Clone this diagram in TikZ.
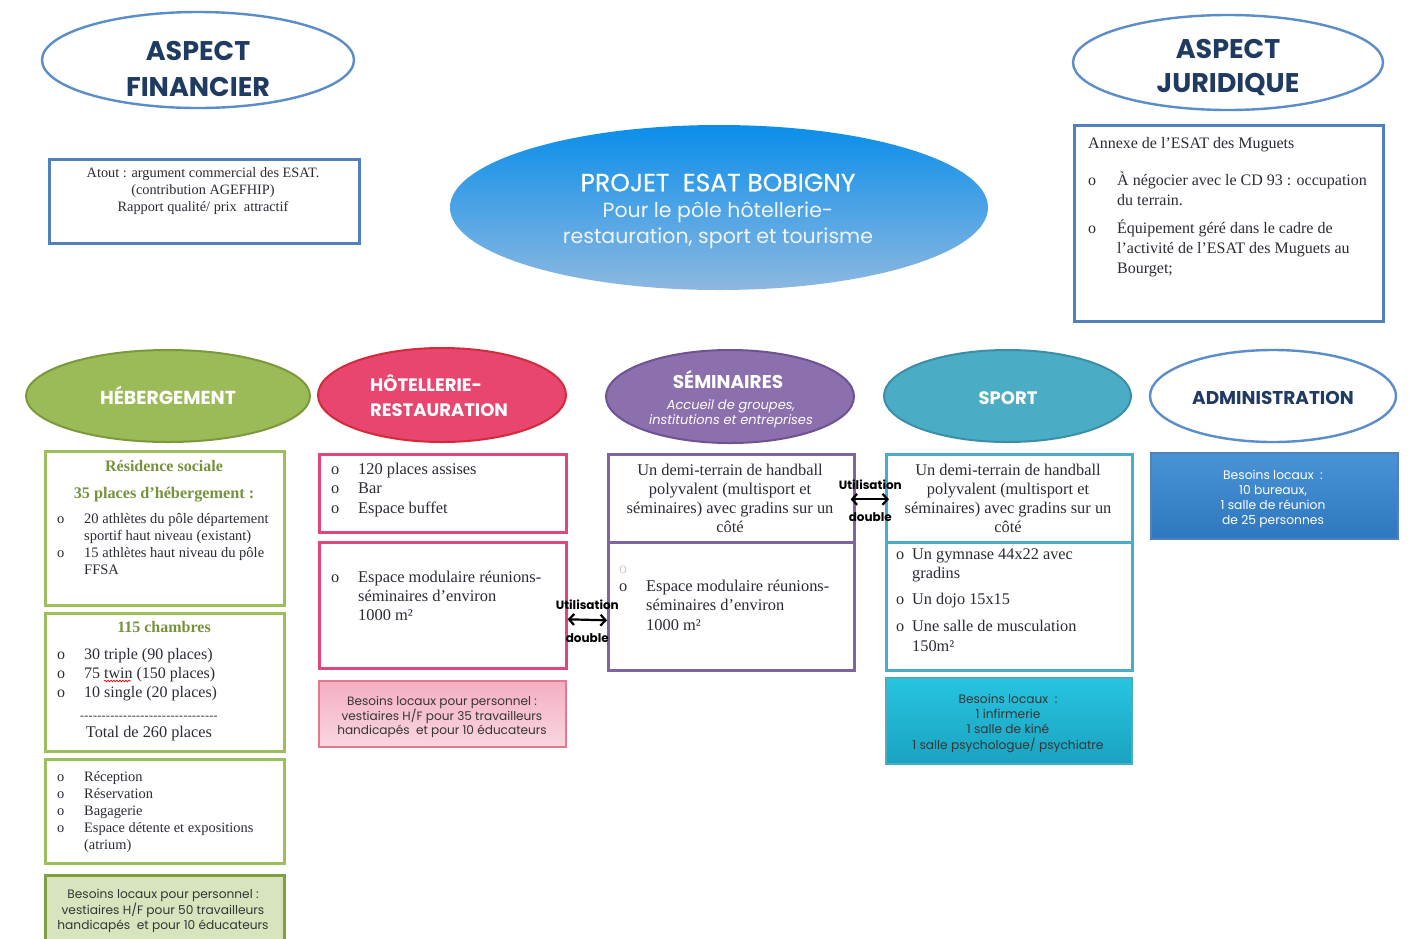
\documentclass[tikz,border=0pt]{standalone}
\usepackage{fontspec}
\setmainfont{Liberation Serif}
\newfontfamily\gothic{Poppins}
\usetikzlibrary{shapes.geometric,arrows.meta,decorations.pathmorphing}
\definecolor{navy}{HTML}{1F3B62}
\definecolor{steel}{HTML}{5B8DC8}
\definecolor{boxblue}{HTML}{4F81BD}
\definecolor{ink}{HTML}{2B2B36}
\definecolor{gfill}{HTML}{9BBB59}
\definecolor{gline}{HTML}{7A9A3A}
\definecolor{gbox}{HTML}{9DBE5C}
\definecolor{olive}{HTML}{76923C}
\definecolor{gneed}{HTML}{D7E4BD}
\definecolor{gneedl}{HTML}{7F9F45}
\definecolor{pfill}{HTML}{E8456F}
\definecolor{pline}{HTML}{D42A3C}
\definecolor{pbox}{HTML}{E2457A}
\definecolor{pneedt}{HTML}{F4AFC2}
\definecolor{pneedb}{HTML}{F9D6DF}
\definecolor{pneedl}{HTML}{E47890}
\definecolor{vfill}{HTML}{8C6FAD}
\definecolor{vline}{HTML}{6E5294}
\definecolor{vbox}{HTML}{8064A2}
\definecolor{tfill}{HTML}{4BACC6}
\definecolor{tline}{HTML}{3A8FA6}
\definecolor{tneedt}{HTML}{27C4E0}
\definecolor{tneedb}{HTML}{1AA3C0}
\definecolor{aneedt}{HTML}{4A93D6}
\definecolor{aneedb}{HTML}{2F77BE}
\definecolor{ctop}{HTML}{0A8EEA}
\definecolor{cmid}{HTML}{1A8DE4}
\definecolor{cbot}{HTML}{8DB8E0}
\definecolor{needtxt}{HTML}{353535}
\newcommand\fs[2]{\fontsize{#1}{#2}\selectfont}
\newcommand\bl[1][27pt]{\makebox[#1][l]{o}}
\newcommand\dashline{\xleaders\hbox{-\kern0.2pt}\hskip 138pt}
\tikzset{
  ell/.style={ellipse, inner sep=0, line width=2pt},
  box/.style={rectangle, anchor=north west, inner sep=0, line width=2.6pt},
  lst/.style={inner sep=0, anchor=mid west, text=ink, yshift=-3pt},
  ctr/.style={inner sep=0, anchor=mid, yshift=-3pt},
  dbl/.style={{Straight Barb[length=5pt,width=11pt]}-{Straight Barb[length=5pt,width=11pt]}, line width=2.2pt},
  lbl/.style={font=\gothic\bfseries\fs{12}{12}, inner sep=0},
  cattxt/.style={inner sep=0, text=white, font=\gothic\bfseries\fs{18}{25}, yshift=-2pt},
}
\begin{document}
\begin{tikzpicture}[x=1pt,y=-1pt]
\useasboundingbox[fill=white] (0,0) rectangle (1413,938);

% ---------- top row ----------
\node[ell, draw=steel, line width=2.4pt, minimum width=312, minimum height=96] (fin) at (198,60) {};
\node[ctr, text=navy, font=\gothic\bfseries\fs{27}{36}] (finT) at (198,55) {\begin{tabular}[t]{@{}c@{}}ASPECT\\FINANCIER\end{tabular}};
\node[box, draw=boxblue, minimum width=310, minimum height=84] (finB) at (48,158) {};
\node[ctr, text=ink, font=\fs{14.3}{17}] (finBT) at (203,172) {\begin{tabular}[t]{@{}c@{}}Atout : argument commercial des ESAT.\\(contribution AGEFHIP)\\Rapport qualité/ prix\ \ attractif\end{tabular}};

\node[ell, draw=steel, line width=2.4pt, minimum width=310, minimum height=95] (jur) at (1228,62.5) {};
\node[ctr, text=navy, font=\gothic\bfseries\fs{27}{34}] (jurT) at (1228,53) {\begin{tabular}[t]{@{}c@{}}ASPECT\\JURIDIQUE\end{tabular}};
\node[box, draw=boxblue, minimum width=309, minimum height=196] (jurB) at (1073,124) {};
\node[lst, font=\fs{16}{20}] (jurB1) at (1088,143) {Annexe de l’ESAT des Muguets};
\node[lst, font=\fs{16}{20}] (jurB2) at (1088,180) {\begin{tabular}[t]{@{}l@{}l@{}}
\bl[29pt] & À négocier avec le CD 93 : occupation\\
 & du terrain.\\[8pt]
\bl[29pt] & Équipement géré dans le cadre de\\
 & l’activité de l’ESAT des Muguets au\\
 & Bourget;\end{tabular}};

\node[ellipse, inner sep=0, minimum width=538, minimum height=165, top color=ctop, middle color=cmid, bottom color=cbot] (proj) at (719,207.5) {};
\node[ctr, font=\gothic\fs{20.5}{26}, text=white] (projT) at (718,186) {\begin{tabular}[t]{@{}c@{}}{\fs{25}{26}\addfontfeature{FakeBold=0.6}PROJET\ \ ESAT BOBIGNY}\\
\textcolor{white!85!cbot}{Pour le pôle hôtellerie-}\\
\textcolor{white!85!cbot}{restauration, sport et tourisme}\end{tabular}};

% ---------- category ellipses ----------
\node[ell, fill=gfill, draw=gline, minimum width=284, minimum height=92] (heb) at (168,396) {};
\node[cattxt, anchor=mid, font=\gothic\bfseries\fs{18.8}{25}] (hebT) at (168,400) {HÉBERGEMENT};
\node[ell, fill=pfill, draw=pline, minimum width=248, minimum height=94] (hot) at (442,395) {};
\node[cattxt, anchor=mid west] (hotT) at (370,387) {\begin{tabular}[t]{@{}l@{}}HÔTELLERIE-\\RESTAURATION\end{tabular}};
\node[ell, fill=vfill, draw=vline, minimum width=248, minimum height=93] (sem) at (730,396.5) {};
\node[cattxt, anchor=mid, font=\gothic\bfseries\fs{18.5}{20}] (semT) at (728,384) {SÉMINAIRES};
\node[inner sep=0, anchor=mid, text=white, font=\gothic\itshape\fs{13}{15}] (semS) at (731,407) {\begin{tabular}[t]{@{}c@{}}Accueil de groupes,\\institutions et entreprises\end{tabular}};
\node[ell, fill=tfill, draw=tline, minimum width=247, minimum height=92] (spo) at (1007.5,396) {};
\node[cattxt, anchor=mid] (spoT) at (1008,400) {SPORT};
\node[ell, draw=steel, line width=2.4pt, minimum width=246, minimum height=92] (adm) at (1273,396) {};
\node[cattxt, anchor=mid, text=navy, font=\gothic\bfseries\fs{18.5}{25}] (admT) at (1273,400) {ADMINISTRATION};

% ---------- Hébergement column ----------
\node[box, draw=gbox, minimum width=239, minimum height=154] (h1) at (44,450) {};
\node[ctr, text=olive, font=\bfseries\fs{16}{16}] (h1a) at (164,466) {Résidence sociale};
\node[ctr, text=olive, font=\bfseries\fs{16.2}{16}] (h1b) at (164,493) {35 places d’hébergement :};
\node[lst, font=\fs{14.5}{17}] (h1c) at (57,518) {\begin{tabular}[t]{@{}l@{}l@{}}
\bl & 20 athlètes du pôle département\\
 & sportif haut niveau (existant)\\
\bl & 15 athlètes haut niveau du pôle\\
 & FFSA\end{tabular}};

\node[box, draw=gbox, minimum width=239, minimum height=138] (h2) at (44,612) {};
\node[ctr, text=olive, font=\bfseries\fs{16}{16}] (h2a) at (164,627) {115 chambres};
\node[lst, font=\fs{16}{19}] (h2b) at (57,654) {\begin{tabular}[t]{@{}l@{}l@{}}
\bl & 30 triple (90 places)\\
\bl & 75 twin (150 places)\\
\bl & 10 single (20 places)\end{tabular}};
\draw[red, line width=0.7pt, decorate, decoration={snake, amplitude=0.9pt, segment length=3pt}] (104,681) -- (131,681);
\node[ctr, text=ink, font=\fs{12}{14}] (h2c) at (149,714) {\hbox to 138pt{\dashline}};
\node[ctr, text=ink, font=\fs{16.3}{16}] (h2d) at (149,732) {Total de 260 places};

\node[box, draw=gbox, minimum width=239, minimum height=104] (h3) at (44,758) {};
\node[lst, font=\fs{14.4}{17}] (h3a) at (57,776) {\begin{tabular}[t]{@{}l@{}l@{}}
\bl & Réception\\
\bl & Réservation\\
\bl & Bagagerie\\
\bl & Espace détente et expositions\\
 & (atrium)\end{tabular}};

\node[box, fill=gneed, draw=gneedl, minimum width=239, minimum height=80] (h4) at (44,874) {};
\node[ctr, text=needtxt, font=\gothic\fs{12.2}{15}] (h4a) at (163,893) {\begin{tabular}[t]{@{}c@{}}Besoins locaux pour personnel :\\vestiaires H/F pour 50 travailleurs\\handicapés\ \ et pour 10 éducateurs\end{tabular}};

% ---------- Hôtellerie column ----------
\node[box, draw=pbox, minimum width=247, minimum height=78] (p1) at (318,453) {};
\node[lst, font=\fs{16.4}{19.5}] (p1a) at (331,469) {\begin{tabular}[t]{@{}l@{}l@{}}
\bl & 120 places assises\\
\bl & Bar\\
\bl & Espace buffet\end{tabular}};
\node[box, draw=pbox, minimum width=247, minimum height=126] (p2) at (318,541) {};
\node[lst, font=\fs{16.4}{19}] (p2a) at (331,577) {\begin{tabular}[t]{@{}l@{}l@{}}
\bl & Espace modulaire réunions-\\
 & séminaires d’environ\\
 & 1000 m²\end{tabular}};
\node[box, top color=pneedt, bottom color=pneedb, draw=pneedl, line width=1.6pt, minimum width=247, minimum height=66] (p3) at (318,680) {};
\node[ctr, text=needtxt, font=\gothic\fs{12.1}{14}] (p3a) at (442,700) {\begin{tabular}[t]{@{}c@{}}Besoins locaux pour personnel :\\vestiaires H/F pour 35 travailleurs\\handicapés\ \ et pour 10 éducateurs\end{tabular}};

% ---------- Séminaires column ----------
\node[box, draw=vbox, minimum width=246, minimum height=88] (s1) at (607,453) {};
\node[ctr, text=ink, font=\fs{16.4}{19}] (s1a) at (730,470) {\begin{tabular}[t]{@{}c@{}}Un demi-terrain de handball\\polyvalent (multisport et\\séminaires) avec gradins sur un\\côté\end{tabular}};
\node[box, draw=vbox, minimum width=246, minimum height=128] (s2) at (607,541) {};
\node[lst, text=black!20, font=\fs{16}{19}] (s2o) at (619,568) {o};
\node[lst, font=\fs{16.4}{19.5}] (s2a) at (619,586) {\begin{tabular}[t]{@{}l@{}l@{}}
\bl & Espace modulaire réunions-\\
 & séminaires d’environ\\
 & 1000 m²\end{tabular}};

% ---------- Sport column ----------
\node[box, draw=tfill, minimum width=246, minimum height=88] (t1) at (885,453) {};
\node[ctr, text=ink, font=\fs{16.4}{19}] (t1a) at (1008,470) {\begin{tabular}[t]{@{}c@{}}Un demi-terrain de handball\\polyvalent (multisport et\\séminaires) avec gradins sur un\\côté\end{tabular}};
\node[box, draw=tfill, minimum width=246, minimum height=128] (t2) at (885,541) {};
\node[lst, font=\fs{16.3}{19.5}] (t2a) at (896,554) {\begin{tabular}[t]{@{}l@{}l@{}}
\bl[16pt] & Un gymnase 44x22 avec\\
 & gradins\\[6.5pt]
\bl[16pt] & Un dojo 15x15\\[7.5pt]
\bl[16pt] & Une salle de musculation\\
 & 150m²\end{tabular}};
\node[box, top color=tneedt, bottom color=tneedb, draw=tfill, line width=1.6pt, minimum width=246, minimum height=86] (t3) at (885,677) {};
\node[ctr, text=needtxt, font=\gothic\fs{12.2}{15.3}] (t3a) at (1008,698) {\begin{tabular}[t]{@{}c@{}}Besoins locaux\ \ :\\1 infirmerie\\1 salle de kiné\\1 salle psychologue/ psychiatre\end{tabular}};

% ---------- Administration ----------
\node[box, top color=aneedt, bottom color=aneedb, draw=boxblue, line width=1.6pt, minimum width=247, minimum height=86] (a1) at (1150,452) {};
\node[ctr, text=white, font=\gothic\fs{12.3}{15}] (a1a) at (1273,474) {\begin{tabular}[t]{@{}c@{}}Besoins locaux\ \ :\\10 bureaux,\\1 salle de réunion\\de 25 personnes\end{tabular}};

% ---------- double arrows ----------
\draw[dbl] ([yshift=-14pt]p2.east) -- ([yshift=-14pt]s2.west)
  node[midway, lbl, yshift=15pt] (u1a) {Utilisation}
  node[midway, lbl, yshift=-18pt] (u1b) {double};
\draw[dbl, shorten <=-5pt, shorten >=-4pt] ([yshift=-1pt]s1.east) -- ([yshift=-1pt]t1.west)
  node[midway, lbl, yshift=15pt] (u2a) {Utilisation}
  node[midway, lbl, yshift=-18pt] (u2b) {double};
\end{tikzpicture}
\end{document}
